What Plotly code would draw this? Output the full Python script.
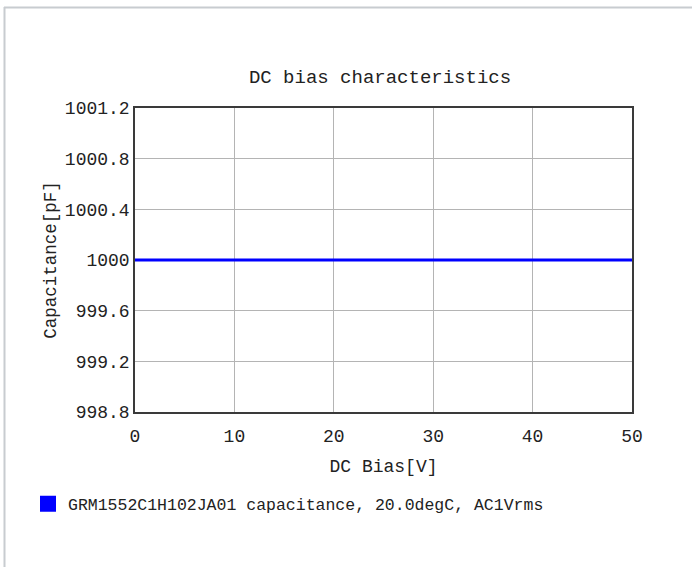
import plotly.graph_objects as go

# Data
dc_bias_v = [0, 5, 10, 15, 20, 25, 30, 35, 40, 45, 50]
capacitance_pf = [1000, 1000, 1000, 1000, 1000, 1000, 1000, 1000, 1000, 1000, 1000]
series_name = "GRM1552C1H102JA01 capacitance, 20.0degC, AC1Vrms"
y_tick_vals = [998.8, 999.2, 999.6, 1000.0, 1000.4, 1000.8, 1001.2]
y_tick_text = ["998.8", "999.2", "999.6", "1000", "1000.4", "1000.8", "1001.2"]
x_tick_vals = [0, 10, 20, 30, 40, 50]

FONT = "Liberation Mono"
W, H = 692, 567
L, R, T, B = 135, 632, 108, 412

fig = go.Figure()
fig.add_trace(go.Scatter(
    x=dc_bias_v, y=capacitance_pf, mode="lines",
    line=dict(color="#0000ff", width=3),
    showlegend=False, hoverinfo="x+y",
))
fig.add_trace(go.Scatter(
    x=[None], y=[None], mode="markers", name=series_name,
    marker=dict(symbol="square", size=16, color="#0000ff", line=dict(width=0)),
    showlegend=True,
))

pw, ph = R - L, B - T
def px_x(p):
    return (p - L) / pw
def px_y(p):
    return (B - p) / ph

# page frame (top and left edges visible)
fig.add_shape(type="line", xref="paper", yref="paper",
              x0=px_x(4), y0=px_y(7.5), x1=px_x(W + 5), y1=px_y(7.5),
              line=dict(color="#c8ccd0", width=2), layer="above")
fig.add_shape(type="line", xref="paper", yref="paper",
              x0=px_x(4.5), y0=px_y(7), x1=px_x(4.5), y1=px_y(H + 5),
              line=dict(color="#c8ccd0", width=2), layer="above")

fig.update_layout(
    width=W, height=H,
    margin=dict(l=L, r=W - R, t=T, b=H - B),
    paper_bgcolor="white", plot_bgcolor="white",
    font=dict(family=FONT, color="#222222"),
    title=dict(text="DC bias characteristics", x=px_x(380), xref="paper", xanchor="center",
               y=1 - 76 / H, yref="container", yanchor="middle",
               font=dict(family=FONT, size=19, color="#222222")),
    xaxis=dict(range=[0, 50], tickvals=x_tick_vals, showgrid=True, gridcolor="#b4b4b4", gridwidth=1,
               zeroline=False, showline=True, linecolor="#3a3a3a", linewidth=1.5, mirror=True,
               ticks="", ticklabelstandoff=7,
               tickfont=dict(family=FONT, size=18, color="#222222"),
               title=dict(text="DC Bias[V]", standoff=13, font=dict(family=FONT, size=18, color="#222222"))),
    yaxis=dict(range=[998.8, 1001.2], tickvals=y_tick_vals, ticktext=y_tick_text,
               showgrid=True, gridcolor="#b4b4b4", gridwidth=1,
               zeroline=False, showline=True, linecolor="#3a3a3a", linewidth=1.5, mirror=True,
               ticks="", ticklabelstandoff=0,
               tickfont=dict(family=FONT, size=18, color="#222222"),
               title=dict(text="Capacitance[pF]", standoff=4, font=dict(family=FONT, size=17.5, color="#222222"))),
    legend=dict(x=px_x(28), xanchor="left", y=px_y(504), yanchor="middle",
                bgcolor="rgba(0,0,0,0)", font=dict(family=FONT, size=16.5, color="#222222"),
                itemwidth=30, tracegroupgap=0),
    showlegend=True,
)

fig.write_html("out.html", config={"displayModeBar": False},
               post_script="document.body.style.margin='0';document.body.style.overflow='hidden';")
